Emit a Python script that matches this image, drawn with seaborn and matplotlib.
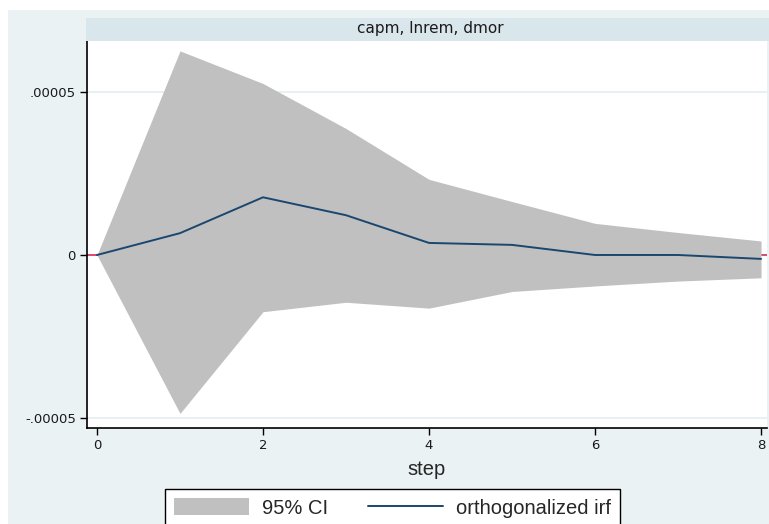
import numpy as np
import pandas as pd
import matplotlib
matplotlib.use("Agg")
import matplotlib.pyplot as plt
from matplotlib.patches import Rectangle, Patch
from matplotlib.lines import Line2D
import seaborn as sns

# ---- data ----
steps = [0, 1, 2, 3, 4, 5, 6, 7, 8]
irf = [0.0, 0.67e-5, 1.77e-5, 1.22e-5, 0.37e-5, 0.31e-5, 0.0, 0.0, -0.12e-5]
ci_upper = [0.0, 6.26e-5, 5.26e-5, 3.88e-5, 2.32e-5, 1.64e-5, 0.97e-5, 0.69e-5, 0.43e-5]
ci_lower = [0.0, -4.86e-5, -1.74e-5, -1.45e-5, -1.63e-5, -1.12e-5, -0.95e-5, -0.80e-5, -0.70e-5]
y_ticks = [-0.00005, 0.0, 0.00005]
y_tick_labels = ["-.00005", "0", ".00005"]
x_ticks = [0, 2, 4, 6, 8]
x_tick_labels = ["0", "2", "4", "6", "8"]
panel_title = "capm, lnrem, dmor"
x_label = "step"
legend_labels = ["95% CI", "orthogonalized irf"]

df = pd.DataFrame({"step": steps, "irf": irf, "lo": ci_lower, "hi": ci_upper})

sns.set_style("white")
plt.rcParams["font.family"] = ["DejaVu Sans"]

W, H = 769, 524
fig = plt.figure(figsize=(W / 100, H / 100), dpi=100)
fig.patch.set_facecolor("white")

BG = "#eaf2f3"
STRIP = "#d9e6eb"
NAVY = "#1a476f"
GRAY = "#c0c0c0"

# outer light background
fig.add_artist(Rectangle((8 / W, 0), 1 - 8 / W, (H - 10) / H, transform=fig.transFigure,
                         facecolor=BG, edgecolor="none", zorder=0))
# title strip
fig.add_artist(Rectangle((86 / W, (H - 40.7) / H), 1 - 86 / W, 22.7 / H, transform=fig.transFigure,
                         facecolor=STRIP, edgecolor="none", zorder=1))
fig.text(430 / W, (H - 29) / H, panel_title, ha="center", va="center", fontsize=11,
         color="#1a1a1a", family="DejaVu Sans")

left, right, top, bottom = 87, 767, 41, 428
ax = fig.add_axes([left / W, (H - bottom) / H, (right - left) / W, (bottom - top) / H])
ax.set_facecolor("white")

ax.fill_between(df["step"], df["lo"], df["hi"], color=GRAY, linewidth=0, zorder=2)
ax.axhline(0, color="#d42a55", linewidth=1.2, zorder=1)
sns.lineplot(data=df, x="step", y="irf", ax=ax, color=NAVY, linewidth=1.4, zorder=3)

ax.set_xlim(-0.1205, 8.072)
ax.set_ylim(-5.307e-5, 6.564e-5)

for yt in y_ticks:
    if yt != 0:
        ax.axhline(yt, color="#e4eef2", linewidth=1.2, zorder=0.5)

ax.set_yticks(y_ticks)
ax.set_yticklabels(y_tick_labels, fontsize=9.5, family="DejaVu Sans")
ax.set_xticks(x_ticks)
ax.set_xticklabels(x_tick_labels, fontsize=9.5, family="DejaVu Sans")
ax.tick_params(axis="both", direction="out", length=5, width=1, color="black",
               left=True, bottom=True, pad=3, labelcolor="#1a1a1a")
ax.set_xlabel(x_label, fontsize=14.5, family="Liberation Sans", labelpad=6)
ax.set_ylabel("")

for s in ["top", "right"]:
    ax.spines[s].set_visible(False)
for s in ["left", "bottom"]:
    ax.spines[s].set_color("black")
    ax.spines[s].set_linewidth(1.2)

handles = [Patch(facecolor=GRAY, edgecolor="none"),
           Line2D([0], [0], color=NAVY, linewidth=1.4)]
leg = fig.legend(handles, legend_labels, loc="upper left",
                 bbox_to_anchor=(165 / W, (H - 489) / H - 0.2, 455 / W, 0.2),
                 mode="expand", ncol=2, frameon=True, fancybox=False, framealpha=1,
                 prop={"family": "Liberation Sans", "size": 14.5},
                 handlelength=3.7, handleheight=0.95, handletextpad=0.65,
                 columnspacing=1.2, borderaxespad=0, borderpad=0.45)
leg.get_frame().set_edgecolor("black")
leg.get_frame().set_linewidth(1.0)
leg.get_frame().set_facecolor("white")

fig.savefig("out.png", dpi=100)
